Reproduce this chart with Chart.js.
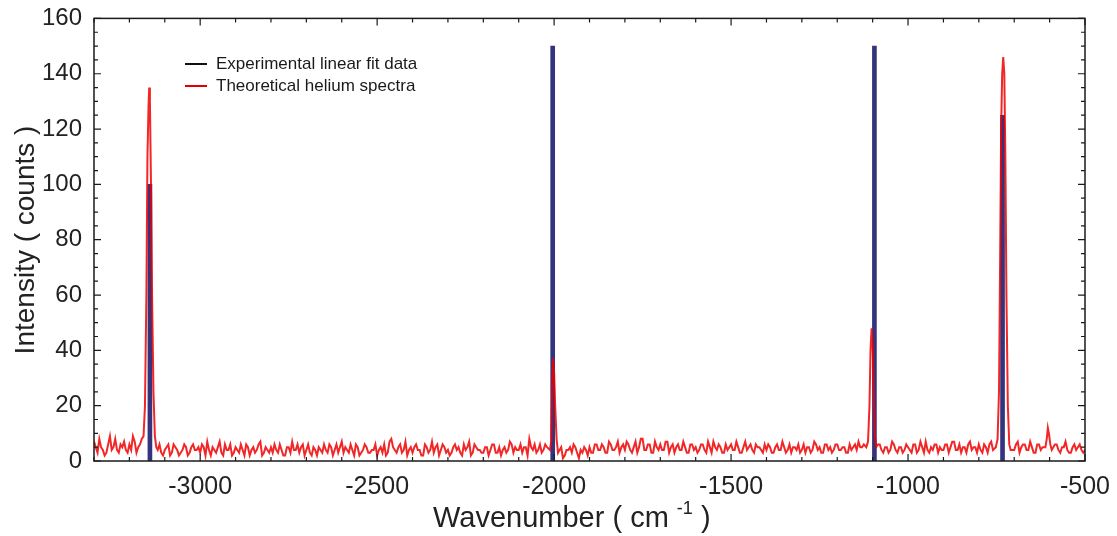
<!DOCTYPE html>
<html>
<head>
<meta charset="utf-8">
<script src="https://cdn.jsdelivr.net/npm/chart.js@4.4.1/dist/chart.umd.min.js"></script>
<style>
  html, body { margin: 0; padding: 0; background: #fff; }
  #wrap { width: 1117px; height: 536px; }
</style>
</head>
<body>
<div id="wrap"><canvas id="c" width="1117" height="536"></canvas></div>
<script>
'use strict';

// red spectrum baseline, read every 10 cm-1 from -3300 to -500
const noiseStart = -3300;
const noiseStep  = 10;
const noise = [
  7,3,5,2,6,4,8,3,5,4,
  6,9,3,5,7,4,6,5,5,3,
  4,6,3,5,2,4,5,3,6,4,
  3,5,7,2,4,5,3,6,4,2,
  5,3,4,6,2,5,4,7,3,4,
  5,6,3,4,2,5,7,4,3,6,
  4,3,5,2,4,6,3,5,4,3,
  7,5,3,4,6,2,4,5,3,4,
  2,5,6,3,8,4,5,3,7,4,
  3,6,4,2,5,4,3,6,4,5,
  4,3,6,5,2,4,7,3,5,4,
  3,5,4,6,3,2,5,4,6,5,
  4,3,5,8,4,3,6,4,5,3,
  4,3,5,2,4,3,5,1,3,4,
  5,3,6,4,5,3,6,4,7,5,
  4,6,3,7,5,8,4,6,3,5,
  6,4,7,5,3,6,4,5,3,6,
  5,4,6,3,5,7,4,5,3,4,
  6,4,5,3,7,5,4,6,5,3,
  4,5,3,6,4,5,4,3,5,6,
  4,3,5,4,6,5,3,6,5,4,
  6,4,5,3,4,6,7,5,4,3,
  4,5,6,3,5,4,6,3,5,4,
  5,3,6,4,5,7,3,4,6,5,
  4,6,5,7,4,3,5,6,4,5,
  6,3,5,6,4,3,5,4,5,6,
  4,7,5,6,4,5,3,6,5,4,
  5,4,6,3,5,4,3,6,5,4,
  4
];
// the in-between samples, -3295 to -505
const noiseMidStart = -3295;
const noiseMid = [
  5,8,4,3,9,5,4,6,7,3,
  4,7,5,8,5,6,8,4,6,2,
  5,2,6,4,3,6,2,5,4,5,
  6,2,4,5,3,7,2,4,6,3,
  4,6,2,5,4,3,6,2,5,3,
  3,4,6,2,5,3,4,6,5,2,
  6,2,4,5,3,4,6,2,6,5,
  3,4,6,2,5,3,6,3,4,6,
  4,3,2,7,5,3,6,4,2,5,
  5,4,2,6,3,7,5,2,6,3,
  2,5,4,3,6,5,2,6,4,3,
  5,2,6,3,5,4,3,7,3,4,
  6,5,2,5,6,4,3,6,2,4,
  6,2,1,4,5,6,3,4,5,2,
  3,6,4,6,3,7,4,5,3,6,
  7,4,5,3,8,4,6,3,7,4,
  4,7,3,6,5,4,7,3,6,4,
  3,6,4,7,3,5,6,3,6,5,
  4,7,3,5,4,6,3,5,4,6,
  6,3,5,4,7,3,6,5,4,3,
  6,5,3,7,4,3,6,4,3,6,
  4,5,3,6,5,4,5,6,3,7,
  3,6,4,5,3,7,4,5,3,6,
  4,6,3,7,3,4,5,6,3,4,
  6,3,7,4,6,5,3,7,5,3,
  4,6,3,7,5,6,7,3,6,4,
  6,3,6,4,7,3,6,4,3,6,
  3,6,4,5,7,3,5,4,6,3
];

// red peaks, sampled finer
const peakWn = [
  -3170,-3165,-3160,-3156,-3152,-3149,-3146,-3144,-3142,-3139,-3136,-3132,-3128,-3124,-3120,
  -2012,-2008,-2005,-2003,-2000,-1997,-1993,-1989,
  -1118,-1113,-1109,-1106,-1103,-1100,-1097,-1094,-1090,
  -752,-747,-743,-740,-737,-734,-731,-728,-725,-722,-718,-714,-710,
  -612,-608,-605,-602,-598,-594
];
const peakInt = [
  6,8,9,20,60,110,128,135,130,100,60,25,9,5,4,
  4,7,30,37,32,20,8,3,
  5,7,20,40,48,42,25,10,5,
  5,8,25,70,120,140,146,140,110,60,20,6,4,
  5,8,12,10,6,4
];

// experimental lines
const stickWn  = [-3142, -2004, -1095, -733];
const stickInt = [100, 150, 150, 125];

const xTicks = [-3000, -2500, -2000, -1500, -1000, -500];
const yTicks = [0, 20, 40, 60, 80, 100, 120, 140, 160];

const RED  = 'rgba(238,0,0,0.85)';
const BLUE = '#34347e';
const FONT = '"Liberation Sans", Arial, sans-serif';

function spectrum() {
  const pts = [];
  const add = (x, v) => {
    if (peakWn.some(p => Math.abs(p - x) < 5)) return;
    pts.push({ x, y: v });
  };
  noise.forEach((v, i) => add(noiseStart + i * noiseStep, v));
  noiseMid.forEach((v, i) => add(noiseMidStart + i * noiseStep, v));
  peakWn.forEach((x, i) => pts.push({ x, y: peakInt[i] }));
  return pts.sort((a, b) => a.x - b.x);
}

const frame = {
  id: 'frame',
  afterDraw(chart) {
    const ctx = chart.ctx;
    const a = chart.chartArea;
    const xs = chart.scales.x, ys = chart.scales.y;
    ctx.save();
    ctx.strokeStyle = '#1a1a1a';
    ctx.lineWidth = 1.5;
    ctx.strokeRect(a.left, a.top, a.right - a.left, a.bottom - a.top);

    ctx.lineWidth = 1.2;
    ctx.beginPath();
    for (let v = -3300; v <= -500; v += 100) {
      const px = xs.getPixelForValue(v);
      const len = v % 500 === 0 ? 7 : 4;
      ctx.moveTo(px, a.bottom); ctx.lineTo(px, a.bottom - len);
      ctx.moveTo(px, a.top);    ctx.lineTo(px, a.top + len);
    }
    for (let v = 0; v <= 160; v += 5) {
      const py = ys.getPixelForValue(v);
      const len = v % 20 === 0 ? 7 : 4;
      ctx.moveTo(a.left, py);  ctx.lineTo(a.left + len, py);
      ctx.moveTo(a.right, py); ctx.lineTo(a.right - len, py);
    }
    ctx.stroke();

    // legend
    ctx.lineWidth = 2;
    ctx.strokeStyle = '#111';
    ctx.beginPath(); ctx.moveTo(185, 64); ctx.lineTo(207, 64); ctx.stroke();
    ctx.strokeStyle = '#e00000';
    ctx.beginPath(); ctx.moveTo(185, 86); ctx.lineTo(207, 86); ctx.stroke();
    ctx.fillStyle = '#1a1a1a';
    ctx.font = '17px ' + FONT;
    ctx.textBaseline = 'middle';
    ctx.textAlign = 'left';
    ctx.fillText('Experimental linear fit data', 216, 64);
    ctx.fillText('Theoretical helium spectra', 216, 86);

    // axis titles
    ctx.fillStyle = '#222';
    ctx.font = '29px ' + FONT;
    ctx.textBaseline = 'alphabetic';
    let x0 = 433;
    const yb = 527;
    const parts1 = 'Wavenumber ( cm ';
    ctx.fillText(parts1, x0, yb);
    x0 += ctx.measureText(parts1).width;
    ctx.font = '18px ' + FONT;
    ctx.fillText('-1', x0, yb - 13);
    x0 += ctx.measureText('-1').width;
    ctx.font = '29px ' + FONT;
    ctx.fillText(' )', x0, yb);

    ctx.font = '28px ' + FONT;
    ctx.translate(34, 240);
    ctx.rotate(-Math.PI / 2);
    ctx.textAlign = 'center';
    ctx.fillText('Intensity ( counts )', 0, 0);
    ctx.restore();
  }
};

new Chart(document.getElementById('c'), {
  type: 'line',
  data: {
    datasets: [
      {
        label: 'Theoretical helium spectra',
        data: spectrum(),
        borderColor: RED,
        borderWidth: 2,
        pointRadius: 0,
        tension: 0,
        order: 0
      },
      {
        type: 'bar',
        label: 'Experimental linear fit data',
        data: stickWn.map((x, i) => ({ x, y: stickInt[i] })),
        backgroundColor: BLUE,
        barThickness: 4,
        order: 1
      }
    ]
  },
  options: {
    responsive: false,
    animation: false,
    layout: { padding: { top: 18, right: 32, left: 0, bottom: 0 } },
    plugins: { legend: { display: false }, tooltip: { enabled: false } },
    scales: {
      x: {
        type: 'linear',
        offset: false,
        min: -3300, max: -500,
        grid: { display: false, offset: false },
        border: { display: false },
        afterBuildTicks: s => { s.ticks = xTicks.map(v => ({ value: v })); },
        afterFit: s => { s.height = 75; },
        ticks: { color: '#222', font: { family: FONT, size: 25 }, padding: 3, maxRotation: 0,
                 callback: v => String(v) }
      },
      y: {
        min: 0, max: 160,
        grid: { display: false },
        border: { display: false },
        afterBuildTicks: s => { s.ticks = yTicks.map(v => ({ value: v })); },
        afterFit: s => { s.width = 94; },
        ticks: { color: '#222', font: { family: FONT, size: 24 }, padding: 4 }
      }
    }
  },
  plugins: [frame]
});
</script>
</body>
</html>
